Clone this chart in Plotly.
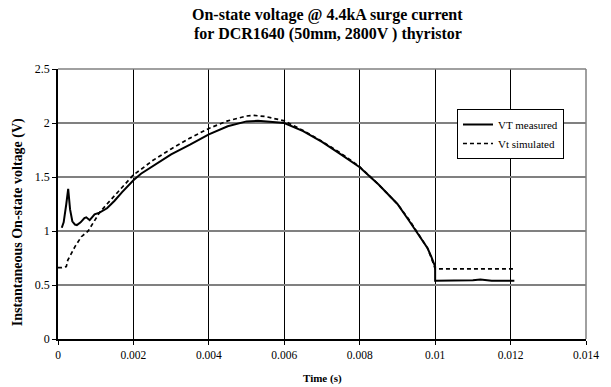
import plotly.graph_objects as go

# Measured on-state voltage VT (solid)
t_meas = [0.0001, 0.00015, 0.00022, 0.00027, 0.00032, 0.00038, 0.00045, 0.0005, 0.0006,
          0.0007, 0.00075, 0.00084, 0.00097, 0.0011, 0.0013, 0.0015, 0.0017, 0.002, 0.0022,
          0.0025, 0.003, 0.0035, 0.004, 0.0045, 0.005, 0.0053, 0.0055, 0.006, 0.0065,
          0.007, 0.0075, 0.008, 0.0085, 0.009, 0.0093, 0.0096, 0.0098, 0.0099, 0.01, 0.01,
          0.0105, 0.011, 0.0112, 0.0115, 0.0121]
v_meas = [1.03, 1.08, 1.25, 1.39, 1.20, 1.09, 1.06, 1.055, 1.08,
          1.12, 1.127, 1.10, 1.155, 1.17, 1.21, 1.28, 1.36, 1.47, 1.53,
          1.60, 1.71, 1.80, 1.895, 1.97, 2.015, 2.02, 2.015, 2.0, 1.925,
          1.825, 1.71, 1.59, 1.43, 1.25, 1.10, 0.95, 0.84, 0.76, 0.67, 0.54,
          0.54, 0.545, 0.55, 0.54, 0.54]

# Simulated on-state voltage Vt (dashed)
t_sim = [0.0, 0.0001, 0.00022, 0.00026, 0.00045, 0.00062, 0.0008, 0.00097, 0.0011,
         0.0013, 0.0015, 0.0017, 0.002, 0.0022, 0.0025, 0.003, 0.0035, 0.004, 0.0045,
         0.005, 0.0052, 0.0055, 0.006, 0.0065, 0.007, 0.0075, 0.008, 0.0085, 0.009,
         0.0093, 0.0096, 0.0098, 0.0099, 0.01, 0.0105, 0.011, 0.0121]
v_sim = [0.66, 0.66, 0.67, 0.73, 0.855, 0.947, 1.0, 1.10, 1.17,
         1.25, 1.33, 1.41, 1.52, 1.57, 1.65, 1.76, 1.86, 1.95, 2.02,
         2.065, 2.07, 2.06, 2.02, 1.93, 1.83, 1.72, 1.595, 1.43, 1.25,
         1.11, 0.95, 0.84, 0.75, 0.65, 0.65, 0.65, 0.65]

x_ticks = [0, 0.002, 0.004, 0.006, 0.008, 0.01, 0.012, 0.014]
x_tick_text = ["0", "0.002", "0.004", "0.006", "0.008", "0.01", "0.012", "0.014"]
y_ticks = [0, 0.5, 1, 1.5, 2, 2.5]
y_tick_text = ["0", "0.5", "1", "1.5", "2", "2.5"]

title_lines = ["On-state voltage @ 4.4kA surge current",
               "for DCR1640 (50mm, 2800V ) thyristor"]
x_title = "Time (s)"
y_title = "Instantaneous On-state voltage (V)"

FONT = "Liberation Serif, Times New Roman, serif"
W, H = 611, 387
L, R, T, B = 58, 21, 69, 48
PW, PH = W - L - R, H - T - B

fig = go.Figure()
fig.add_trace(go.Scatter(x=t_meas, y=v_meas, mode="lines", name="VT measured",
                         line=dict(color="black", width=2)))
fig.add_trace(go.Scatter(x=t_sim, y=v_sim, mode="lines", name="Vt simulated",
                         line=dict(color="black", width=1.7, dash="4px,3px")))

fig.update_layout(
    width=W, height=H,
    margin=dict(l=L, r=R, t=T, b=B),
    paper_bgcolor="white", plot_bgcolor="white",
    font=dict(family=FONT, color="black", size=12),
    legend=dict(x=(460 - L) / PW, y=(H - B - 109) / PH, xanchor="left", yanchor="top",
                bordercolor="black", borderwidth=1, bgcolor="white",
                font=dict(family=FONT, size=11), tracegroupgap=0),
    showlegend=True,
)

# title lines as annotations (pixel placement)
for txt, yc in zip(title_lines, [15, 34]):
    fig.add_annotation(text="<b>" + txt + "</b>", xref="paper", yref="paper",
                       x=(330 - L) / PW, y=(H - B - yc) / PH,
                       xanchor="center", yanchor="middle", showarrow=False,
                       font=dict(family=FONT, size=16, color="black"))

fig.add_annotation(text="<b>" + x_title + "</b>", xref="paper", yref="paper",
                   x=(324 - L) / PW, y=(H - B - 378) / PH,
                   xanchor="center", yanchor="middle", showarrow=False,
                   font=dict(family=FONT, size=11, color="black"))
fig.add_annotation(text="<b>" + y_title + "</b>", xref="paper", yref="paper",
                   x=(18 - L) / PW, y=(H - B - 222) / PH, textangle=-90,
                   xanchor="center", yanchor="middle", showarrow=False,
                   font=dict(family=FONT, size=14, color="black"))

fig.update_xaxes(
    range=[0, 0.014], tickvals=x_ticks, ticktext=x_tick_text,
    showgrid=True, gridcolor="black", gridwidth=1,
    showline=True, linecolor="black", linewidth=1.5, mirror=False,
    ticks="outside", ticklen=4, tickcolor="black",
    zeroline=False, tickfont=dict(size=11.5),
)
fig.update_yaxes(
    range=[0, 2.5], tickvals=y_ticks, ticktext=y_tick_text,
    showgrid=True, gridcolor="#808080", gridwidth=1.5,
    showline=True, linecolor="black", linewidth=1.5, mirror=False,
    ticks="outside", ticklen=4, tickcolor="black",
    zeroline=False, tickfont=dict(size=12),
)
# gray plot-area border on top and right
fig.add_shape(type="line", xref="paper", yref="paper", x0=0, x1=1, y0=1, y1=1,
              line=dict(color="#808080", width=1.5))
fig.add_shape(type="line", xref="paper", yref="paper", x0=1, x1=1, y0=0, y1=1,
              line=dict(color="#808080", width=1.5))

fig.write_html("out.html")
